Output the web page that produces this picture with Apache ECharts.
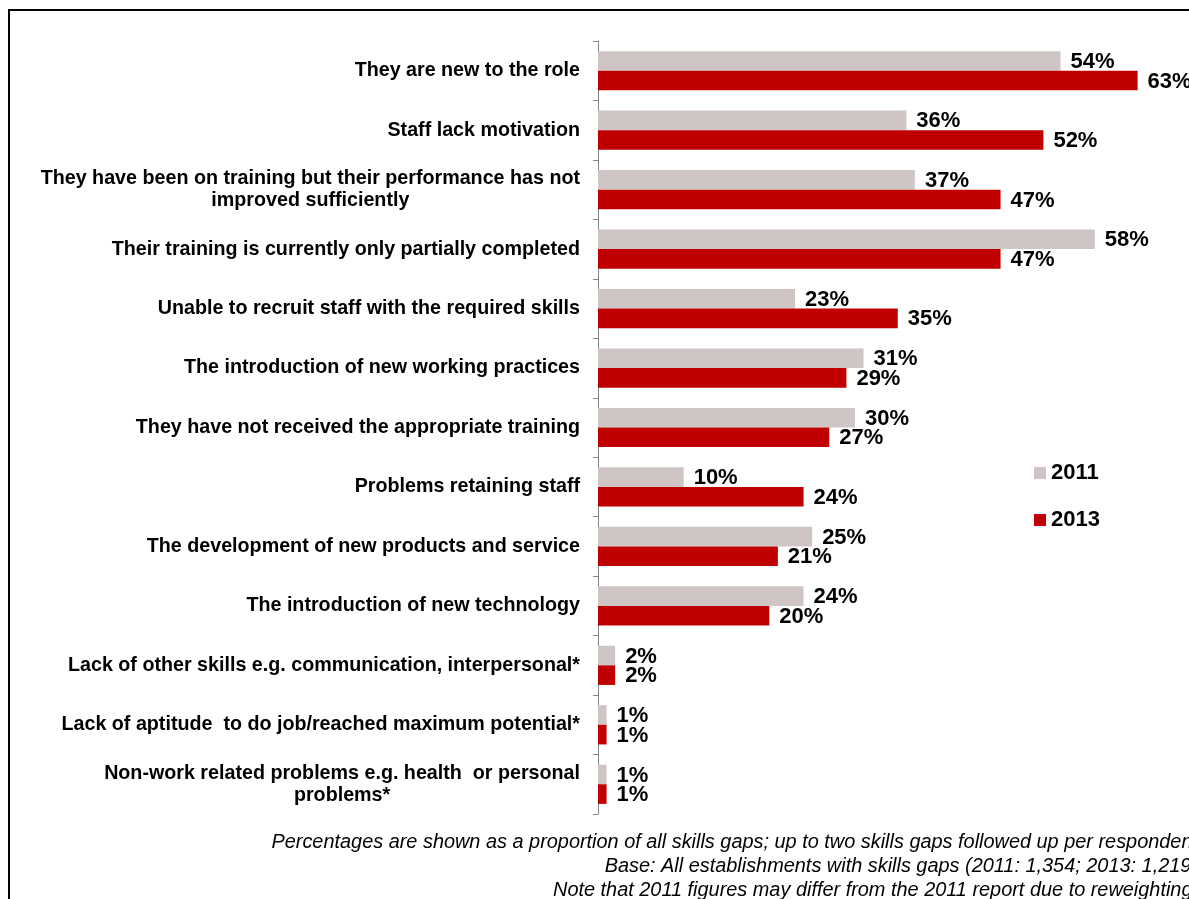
<!DOCTYPE html>
<html>
<head>
<meta charset="utf-8">
<script src="https://cdn.jsdelivr.net/npm/echarts@6/dist/echarts.min.js"></script>
<style>
html,body{margin:0;padding:0;background:#fff;}
#c{width:1189px;height:899px;}
</style>
</head>
<body>
<div id="c"></div>
<script>
const categories = [
  "They are new to the role",
  "Staff lack motivation",
  "They have been on training but their performance has not\nimproved sufficiently",
  "Their training is currently only partially completed",
  "Unable to recruit staff with the required skills",
  "The introduction of new working practices",
  "They have not received the appropriate training",
  "Problems retaining staff",
  "The development of new products and service",
  "The introduction of new technology",
  "Lack of other skills e.g. communication, interpersonal*",
  "Lack of aptitude  to do job/reached maximum potential*",
  "Non-work related problems e.g. health  or personal\nproblems*"
];
const values2011 = [54, 36, 37, 58, 23, 31, 30, 10, 25, 24, 2, 1, 1];
const values2013 = [63, 52, 47, 47, 35, 29, 27, 24, 21, 20, 2, 1, 1];
const seriesNames = ["2011", "2013"];
const footnotes = [
  "Percentages are shown as a proportion of all skills gaps; up to two skills gaps followed up per respondent",
  "Base: All establishments with skills gaps (2011: 1,354; 2013: 1,219)",
  "Note that 2011 figures may differ from the 2011 report due to reweighting."
];

const chart = echarts.init(document.getElementById('c'), null, {renderer: 'canvas'});
const labelStyle = {
  show: true,
  position: 'right',
  distance: 10,
  offset: [0, 1],
  formatter: '{c}%',
  fontFamily: 'Liberation Sans, Arial, sans-serif',
  fontWeight: 'bold',
  fontSize: 22,
  color: '#000'
};
chart.setOption({
  animation: false,
  backgroundColor: '#fff',
  grid: {left: 598, top: 41, bottom: 85, right: 0, containLabel: false},
  xAxis: {
    type: 'value', min: 0, max: 69,
    axisLine: {show: false}, axisTick: {show: false},
    axisLabel: {show: false}, splitLine: {show: false}
  },
  yAxis: {
    type: 'category', inverse: true, data: categories,
    axisLine: {show: true, lineStyle: {color: '#868686', width: 1}},
    axisTick: {show: true, length: 5, lineStyle: {color: '#868686'}},
    axisLabel: {
      margin: 18,
      formatter: function (v) {
        return v.split('\n').map(function (s) { return '{c|' + s + '}'; }).join('\n');
      },
      rich: {
        c: {
          align: 'center',
          fontFamily: 'Liberation Sans, Arial, sans-serif',
          fontWeight: 'bold', fontSize: 19.7, color: '#000', lineHeight: 22
        }
      }
    }
  },
  legend: {
    orient: 'vertical',
    left: 1029, top: 457,
    itemWidth: 12, itemHeight: 12, itemGap: 25,
    icon: 'rect',
    data: seriesNames,
    textStyle: {fontFamily: 'Liberation Sans, Arial, sans-serif', fontWeight: 'bold', fontSize: 22, color: '#000'}
  },
  series: [
    {name: seriesNames[0], type: 'bar', data: values2011, barWidth: 19.6, barGap: '0%',
     itemStyle: {color: '#CFC5C5'}, label: labelStyle},
    {name: seriesNames[1], type: 'bar', data: values2013, barWidth: 19.6, barGap: '0%',
     itemStyle: {color: '#C00000'}, label: labelStyle}
  ],
  graphic: [
    {type: 'rect', shape: {x: 9, y: 10, width: 1400, height: 1200},
     style: {fill: 'none', stroke: '#000', lineWidth: 2}, silent: true},
    {type: 'text', x: 1198, y: 830,
     style: {
       text: footnotes.join('\n'),
       font: 'italic 19.9px "Liberation Sans", Arial, sans-serif',
       fill: '#000', align: 'right', verticalAlign: 'top', lineHeight: 24
     }}
  ]
});
</script>
</body>
</html>
